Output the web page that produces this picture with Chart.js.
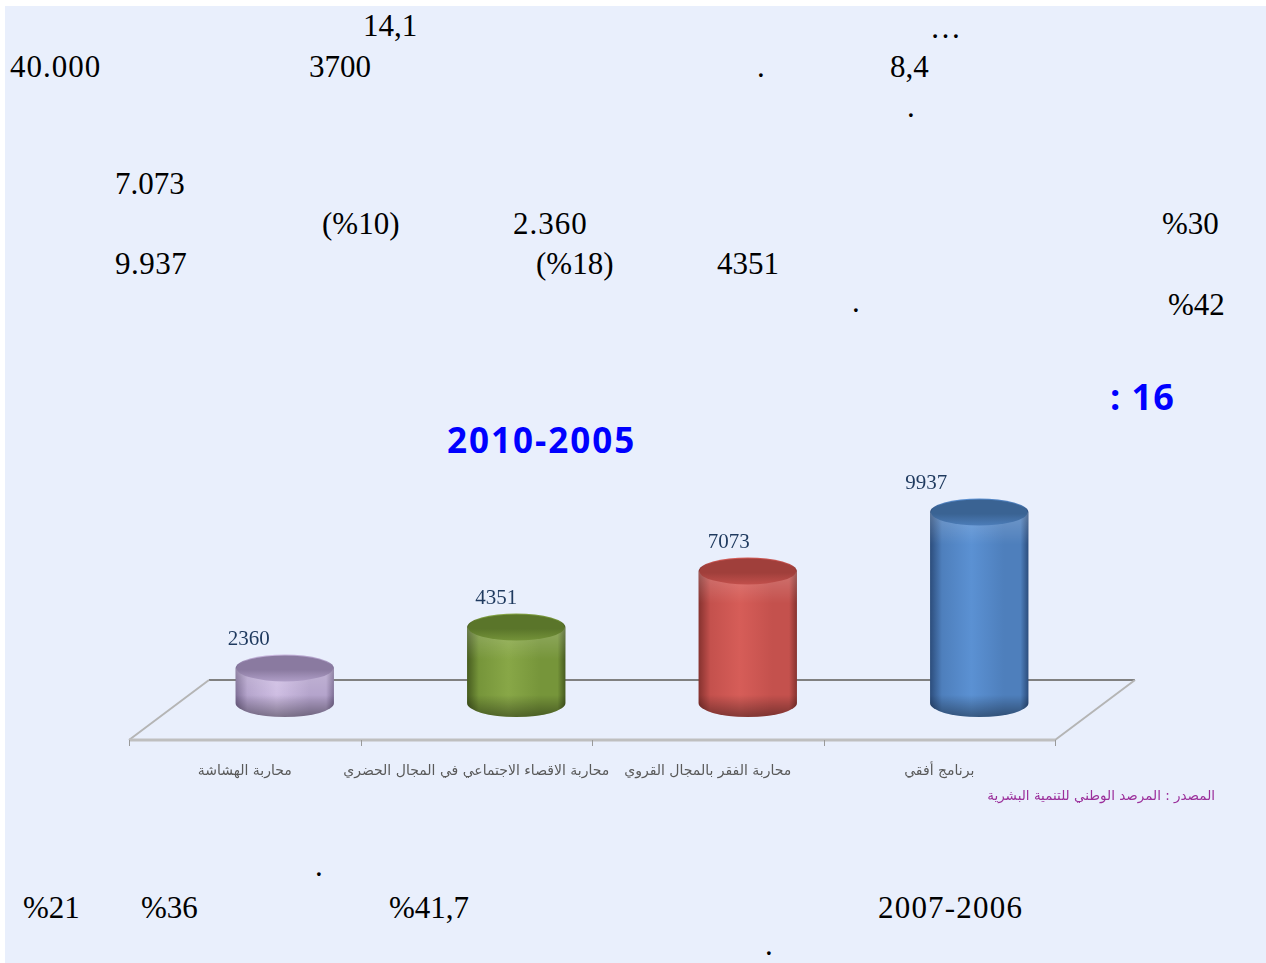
<!DOCTYPE html>
<html lang="ar">
<head>
<meta charset="utf-8">
<title>INDH 2005-2010</title>
<script src="https://cdn.jsdelivr.net/npm/chart.js@4.4.0/dist/chart.umd.min.js"></script>
<style>
    html, body { margin: 0; padding: 0; background: #ffffff; }
    body { width: 1266px; height: 963px; position: relative; overflow: hidden; }
    #page { position: absolute; left: 5px; top: 6px; right: 0; bottom: 0; background: #E9EFFC; }
    .t { position: absolute; font-family: "Liberation Serif", "DejaVu Serif", serif; font-size: 31px; line-height: 1; color: #000; white-space: nowrap; direction: ltr; }
    .b { position: absolute; font-family: "Open Sans", "Noto Sans", sans-serif; font-weight: 700; line-height: 1; color: #0000FF; white-space: nowrap; direction: ltr; }
    #chart { position: absolute; left: 0; top: 440px; }
</style>
</head>
<body>
<div id="page"></div>

<!-- numbers left over from the page text -->
<div class="t" style="left:363px; top:10px">14,1</div>
<div class="t" style="left:930px; top:12px">…</div>
<div class="t" style="left:10px; top:51px; letter-spacing:1px">40.000</div>
<div class="t" style="left:309px; top:51px">3700</div>
<div class="t" style="left:757px; top:51px">.</div>
<div class="t" style="left:890px; top:51px">8,4</div>
<div class="t" style="left:907px; top:91px">.</div>
<div class="t" style="left:115px; top:168px">7.073</div>
<div class="t" style="left:322px; top:208px">(%10)</div>
<div class="t" style="left:513px; top:208px; letter-spacing:1px">2.360</div>
<div class="t" style="left:1162px; top:208px">%30</div>
<div class="t" style="left:115px; top:248px; letter-spacing:0.5px">9.937</div>
<div class="t" style="left:536px; top:248px">(%18)</div>
<div class="t" style="left:717px; top:248px">4351</div>
<div class="t" style="left:852px; top:286px">.</div>
<div class="t" style="left:1168px; top:289px">%42</div>

<div class="b" style="left:1110px; top:379px; font-size:36px; letter-spacing:1px">: 16</div>
<div class="b" style="left:447px; top:422px; font-size:35px; letter-spacing:2px">2010-2005</div>

<canvas id="chart" width="1266" height="380"></canvas>

<div class="t" style="left:315px; top:850px">.</div>
<div class="t" style="left:23px; top:892px">%21</div>
<div class="t" style="left:141px; top:892px">%36</div>
<div class="t" style="left:389px; top:892px">%41,7</div>
<div class="t" style="left:878px; top:892px; letter-spacing:1.2px">2007-2006</div>
<div class="t" style="left:765px; top:929px">.</div>

<script>
// programmes, left to right as in the picture
const programmes = [
    'محاربة الهشاشة',
    'محاربة الاقصاء الاجتماعي في المجال الحضري',
    'محاربة الفقر بالمجال القروي',
    'برنامج أفقي'
];
const projects = [2360, 4351, 7073, 9937];
const sourceText = 'المصدر : المرصد الوطني للتنمية البشرية';

// dark edge, body, highlight, cap
const cylColors = [
    ['#7A6A92', '#B2A1CA', '#CDBCE2', '#8A7AA0'],
    ['#465B1F', '#76953A', '#88A747', '#5A752A'],
    ['#86322F', '#C4514D', '#D65D58', '#A03F3B'],
    ['#2C4D7C', '#4E7FBC', '#5B91D3', '#3A6393']
];
// how far each value label sits left of its cylinder (perspective of the original)
const labelShift = [36, 20, 19, 53];

const DEPTH = 40;   // horizontal shift of the 3d floor
const RY = 14;      // ellipse half height of the cylinders

function drawFloor(chart) {
    const ctx = chart.ctx;
    const area = chart.chartArea;
    const zero = chart.scales.y.getPixelForValue(0);
    const back = zero - 37, front = zero + 23;
    ctx.save();
    ctx.lineCap = 'butt';
    // back edge
    ctx.strokeStyle = '#808080';
    ctx.lineWidth = 2;
    ctx.beginPath();
    ctx.moveTo(area.left + DEPTH, back);
    ctx.lineTo(area.right + DEPTH, back);
    ctx.stroke();
    // side edges
    ctx.strokeStyle = '#B5B5B5';
    ctx.lineWidth = 2;
    ctx.beginPath();
    ctx.moveTo(area.left - DEPTH, front);
    ctx.lineTo(area.left + DEPTH, back);
    ctx.moveTo(area.right - DEPTH, front);
    ctx.lineTo(area.right + DEPTH, back);
    ctx.stroke();
    // front edge
    ctx.strokeStyle = '#BFBFBF';
    ctx.lineWidth = 3;
    ctx.beginPath();
    ctx.moveTo(area.left - DEPTH, front);
    ctx.lineTo(area.right - DEPTH, front);
    ctx.stroke();
    // category ticks
    const step = (area.right - area.left) / programmes.length;
    ctx.strokeStyle = '#9A9A9A';
    ctx.lineWidth = 1;
    ctx.beginPath();
    for (let i = 0; i <= programmes.length; i++) {
        const x = Math.round(area.left - DEPTH + i * step) + 0.5;
        ctx.moveTo(x, front);
        ctx.lineTo(x, front + 6);
    }
    ctx.stroke();
    ctx.restore();
}

function drawCylinder(ctx, cx, top, bottom, rx, c) {
    const left = cx - rx, right = cx + rx;
    const side = ctx.createLinearGradient(left, 0, right, 0);
    side.addColorStop(0, c[0]);
    side.addColorStop(0.12, c[1]);
    side.addColorStop(0.42, c[2]);
    side.addColorStop(0.75, c[1]);
    side.addColorStop(0.92, c[1]);
    side.addColorStop(1, c[0]);

    // body with rounded bottom
    ctx.beginPath();
    ctx.moveTo(left, top);
    ctx.lineTo(left, bottom);
    ctx.ellipse(cx, bottom, rx, RY, 0, Math.PI, 0, true);
    ctx.lineTo(right, top);
    ctx.ellipse(cx, top, rx, RY, 0, 0, Math.PI, true);
    ctx.closePath();
    ctx.fillStyle = side;
    ctx.fill();

    ctx.save();
    ctx.clip();
    // darker bevel at the bottom
    const low = ctx.createLinearGradient(0, bottom - 8, 0, bottom + RY);
    low.addColorStop(0, 'rgba(0,0,0,0)');
    low.addColorStop(1, 'rgba(0,0,0,0.38)');
    ctx.fillStyle = low;
    ctx.fillRect(left, bottom - 8, rx * 2, RY + 8);
    // light band under the cap
    const band = ctx.createLinearGradient(0, top, 0, top + RY + 18);
    band.addColorStop(0, 'rgba(255,255,255,0.2)');
    band.addColorStop(1, 'rgba(255,255,255,0)');
    ctx.fillStyle = band;
    ctx.fillRect(left, top, rx * 2, RY + 18);
    ctx.restore();

    // top cap
    const cap = ctx.createLinearGradient(0, top - RY, 0, top + RY);
    cap.addColorStop(0, c[3]);
    cap.addColorStop(0.55, c[3]);
    cap.addColorStop(1, c[1]);
    ctx.beginPath();
    ctx.ellipse(cx, top, rx - 1, RY - 1, 0, 0, Math.PI * 2);
    ctx.fillStyle = cap;
    ctx.fill();
}

const cylinderPlugin = {
    id: 'cylinders',
    beforeDatasetsDraw(chart) {
        drawFloor(chart);
    },
    afterDatasetsDraw(chart) {
        const ctx = chart.ctx;
        const meta = chart.getDatasetMeta(0);
        const zero = chart.scales.y.getPixelForValue(0);
        ctx.save();
        meta.data.forEach((bar, i) => {
            const rx = bar.width / 2;
            drawCylinder(ctx, bar.x, bar.y, zero - RY, rx, cylColors[i]);
            // value label
            ctx.fillStyle = '#1F3A5F';
            ctx.font = '21px "Liberation Serif", serif';
            ctx.textAlign = 'center';
            ctx.textBaseline = 'middle';
            ctx.fillText(String(projects[i]), bar.x - labelShift[i], bar.y - RY - 15);
        });
        ctx.restore();
    },
    afterDraw(chart) {
        const ctx = chart.ctx;
        const area = chart.chartArea;
        const zero = chart.scales.y.getPixelForValue(0);
        const front = zero + 23;
        const xs = chart.scales.x;
        ctx.save();
        ctx.direction = 'rtl';
        ctx.textBaseline = 'middle';
        ctx.textAlign = 'center';
        ctx.fillStyle = '#595959';
        ctx.font = '14px "DejaVu Sans", sans-serif';
        programmes.forEach((p, i) => {
            ctx.fillText(p, xs.getPixelForValue(i) - DEPTH, front + 31);
        });
        ctx.fillStyle = '#9B2F9B';
        ctx.textAlign = 'right';
        ctx.font = '13.5px "DejaVu Sans", sans-serif';
        ctx.fillText(sourceText, area.right + 120, front + 56);
        ctx.restore();
    }
};

new Chart(document.getElementById('chart'), {
    type: 'bar',
    data: {
        labels: programmes,
        datasets: [{
            data: projects,
            backgroundColor: 'rgba(0,0,0,0)',
            borderWidth: 0,
            categoryPercentage: 1,
            barPercentage: 0.425
        }]
    },
    options: {
        responsive: false,
        animation: false,
        layout: { padding: { left: 169, right: 171, top: 30, bottom: 103 } },
        plugins: { legend: { display: false }, tooltip: { enabled: false } },
        scales: {
            x: { display: false },
            y: { display: false, min: 0, max: 12000 }
        }
    },
    plugins: [cylinderPlugin]
});
</script>
</body>
</html>
